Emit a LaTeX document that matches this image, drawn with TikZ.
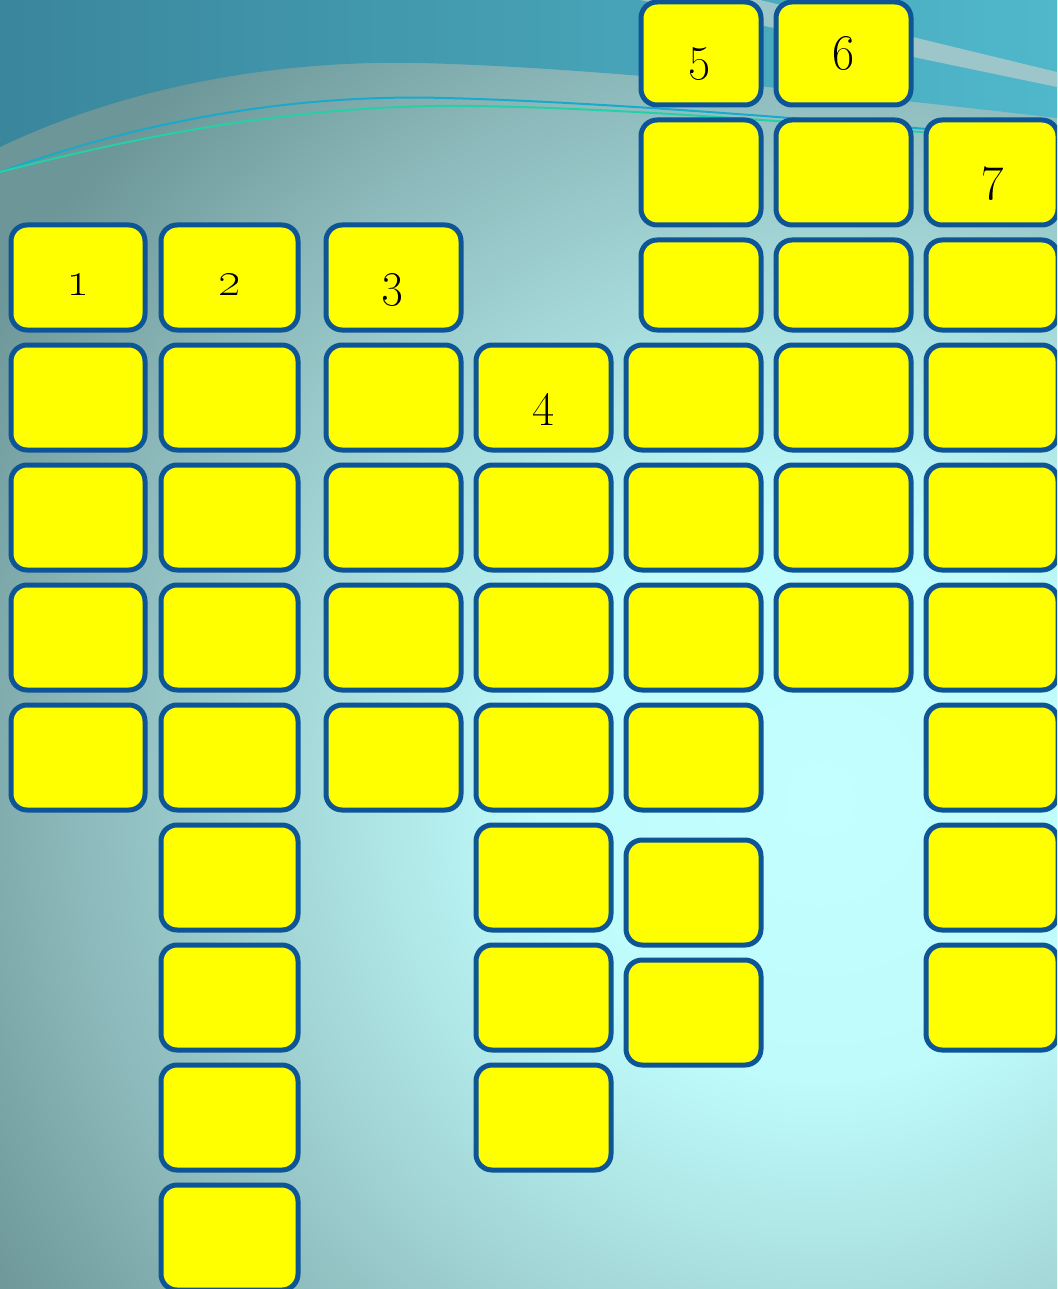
\documentclass[tikz,border=0pt]{standalone}
\definecolor{boxblue}{RGB}{14,85,149}
\definecolor{cellfill}{RGB}{255,255,0}
\definecolor{bgA}{HTML}{C4FFFF}
\definecolor{bgB}{HTML}{BFFBFB}
\definecolor{bgC}{HTML}{A6DADA}
\definecolor{bgD}{HTML}{8AB6B8}
\definecolor{bgE}{HTML}{6C9698}
\definecolor{topL}{HTML}{3A869C}
\definecolor{topR}{HTML}{50B8CB}
\definecolor{stripe}{HTML}{9CC6C9}
\definecolor{lineC}{HTML}{19AACA}
\definecolor{lineG}{HTML}{26D0A6}
\pgfdeclareradialshading{bgshade}{\pgfpoint{0bp}{0bp}}{color(0bp)=(bgA); color(280bp)=(bgB); color(520bp)=(bgC); color(760bp)=(bgD); color(960bp)=(bgE); color(1300bp)=(bgE)}
\tikzset{
  cell/.style={draw=boxblue, fill=cellfill, line width=5pt, rounded corners=16pt, inner sep=0pt, outer sep=0pt},
  num/.style={inner sep=0pt, font=\fontsize{24}{26}\selectfont, scale=2, anchor=base, text=black},
  numb/.style={num, font=\fontsize{24}{26}\selectfont\bfseries}
}
\begin{document}
\begin{tikzpicture}[x=1pt,y=-1pt]
\useasboundingbox (0,0) rectangle (1057,1289);
\clip (0,0) rectangle (1057,1289);
% background
\node[inner sep=0pt, outer sep=0pt] (bg) at (820,800) {\pgfuseshading{bgshade}};
\shade[left color=topL, right color=topR] (0,0) -- (0,147) .. controls (130,85) and (280,60) .. (418,63) .. controls (560,66) and (800,88) .. (1057,118) -- (1057,0) -- cycle;
\fill[stripe] (760,0) -- (1057,72) -- (1057,87) -- (640,0) -- cycle;
\draw[lineC, line width=2pt] (0,172) .. controls (150,118) and (300,94) .. (445,98) .. controls (600,102) and (800,118) .. (1057,140);
\draw[lineG, line width=2pt] (0,172) .. controls (170,128) and (320,104) .. (472,106) .. controls (620,108) and (800,122) .. (1057,143);
% column 1
\foreach \a/\b [count=\i] in {225/330,345/450,465/570,585/690,705/810}
  \node[cell, minimum width=134pt, minimum height={\b-\a}] (ca-\i) at (78,{(\a+\b)/2}) {};
% column 2
\foreach \a/\b [count=\i] in {225/330,345/450,465/570,585/690,705/810,825/930,945/1050,1065/1170,1185/1290}
  \node[cell, minimum width=137pt, minimum height={\b-\a}] (cb-\i) at (229.5,{(\a+\b)/2}) {};
% column 3
\foreach \a/\b [count=\i] in {225/330,345/450,465/570,585/690,705/810}
  \node[cell, minimum width=135pt, minimum height={\b-\a}] (cc-\i) at (393.5,{(\a+\b)/2}) {};
% column 4
\foreach \a/\b [count=\i] in {345/450,465/570,585/690,705/810,825/930,945/1050,1065/1170}
  \node[cell, minimum width=135pt, minimum height={\b-\a}] (cd-\i) at (543.5,{(\a+\b)/2}) {};
% column 5
\foreach \a/\b [count=\i] in {2/105,120/225,240/330}
  \node[cell, minimum width=120pt, minimum height={\b-\a}] (ce-\i) at (701,{(\a+\b)/2}) {};
\foreach \a/\b [count=\i from 4] in {345/450,465/570,585/690,705/810,840/945,960/1065}
  \node[cell, minimum width=135pt, minimum height={\b-\a}] (ce-\i) at (693.5,{(\a+\b)/2}) {};
% column 6
\foreach \a/\b [count=\i] in {2/105,120/225,240/330,345/450,465/570,585/690}
  \node[cell, minimum width=135pt, minimum height={\b-\a}] (cf-\i) at (843.5,{(\a+\b)/2}) {};
% column 7
\foreach \a/\b [count=\i] in {120/225,240/330,345/450,465/570,585/690,705/810,825/930,945/1050}
  \node[cell, minimum width=132pt, minimum height={\b-\a}] (cg-\i) at (992,{(\a+\b)/2}) {};
% numbers
\node[numb] (n1) at (78,295) {\oldstylenums{1}};
\node[numb] (n2) at (229.5,295) {\oldstylenums{2}};
\node[num] (n3) at (393,295) {\oldstylenums{3}};
\node[num] (n4) at (543.5,415) {\oldstylenums{4}};
\node[num] (n5) at (700,70) {\oldstylenums{5}};
\node[num] (n6) at (843.5,70) {\oldstylenums{6}};
\node[num] (n7) at (993,190) {\oldstylenums{7}};
\end{tikzpicture}
\end{document}
